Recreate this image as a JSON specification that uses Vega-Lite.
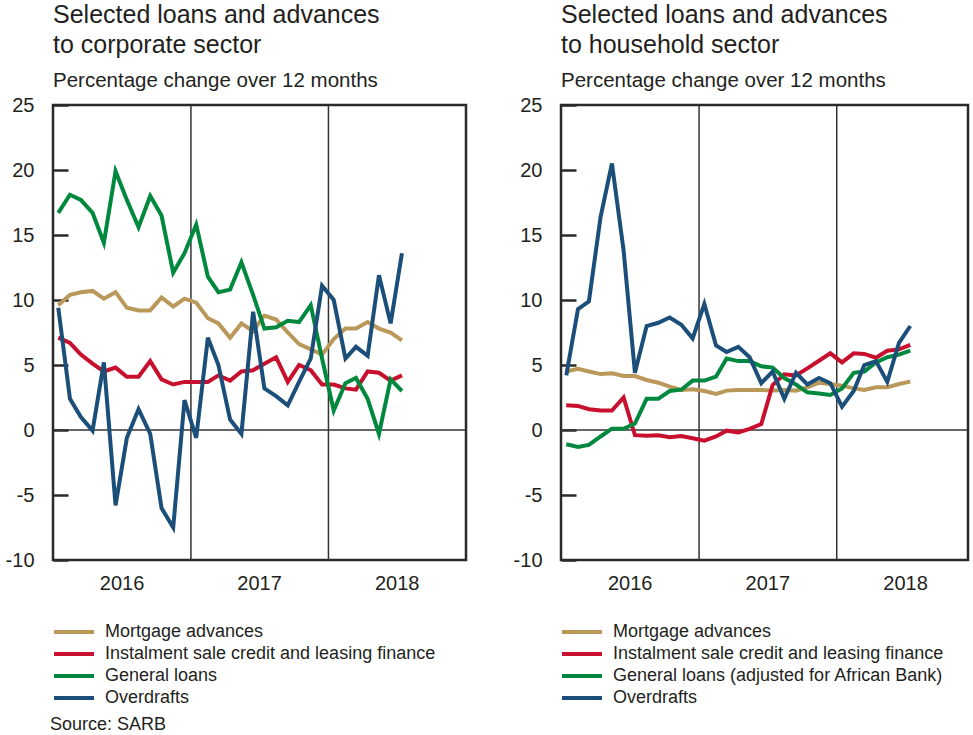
{
"$schema":"https://vega.github.io/schema/vega-lite/v6.json",
"padding":{"left":3,"top":1,"right":0,"bottom":5},
"config":{
 "font":"Liberation Sans",
 "view":{"stroke":"#2a2a2a","strokeWidth":2.5},
 "concat":{"spacing":43},
 "axis":{"labelFont":"Liberation Sans","labelColor":"#231f20","grid":false,"domain":false,"title":null},
 "title":{"anchor":"start","frame":"group","font":"Liberation Sans","fontSize":25,"fontWeight":"normal","color":"#231f20","lineHeight":30,"subtitleFont":"Liberation Sans","subtitleFontSize":20.5,"subtitleColor":"#231f20","subtitlePadding":13,"offset":4},
 "legend":{"labelFont":"Liberation Sans","titleFont":"Liberation Sans"}
},
"datasets":{
"corp":[
{"series":"Mortgage advances","date":"2016-01-15","value":9.6},{"series":"Mortgage advances","date":"2016-02-15","value":10.4},{"series":"Mortgage advances","date":"2016-03-15","value":10.6},{"series":"Mortgage advances","date":"2016-04-15","value":10.7},{"series":"Mortgage advances","date":"2016-05-15","value":10.1},{"series":"Mortgage advances","date":"2016-06-15","value":10.6},{"series":"Mortgage advances","date":"2016-07-15","value":9.4},{"series":"Mortgage advances","date":"2016-08-15","value":9.2},{"series":"Mortgage advances","date":"2016-09-15","value":9.2},{"series":"Mortgage advances","date":"2016-10-15","value":10.2},{"series":"Mortgage advances","date":"2016-11-15","value":9.5},{"series":"Mortgage advances","date":"2016-12-15","value":10.1},
{"series":"Mortgage advances","date":"2017-01-15","value":9.8},{"series":"Mortgage advances","date":"2017-02-15","value":8.6},{"series":"Mortgage advances","date":"2017-03-15","value":8.2},{"series":"Mortgage advances","date":"2017-04-15","value":7.1},{"series":"Mortgage advances","date":"2017-05-15","value":8.2},{"series":"Mortgage advances","date":"2017-06-15","value":7.6},{"series":"Mortgage advances","date":"2017-07-15","value":8.8},{"series":"Mortgage advances","date":"2017-08-15","value":8.5},{"series":"Mortgage advances","date":"2017-09-15","value":7.5},{"series":"Mortgage advances","date":"2017-10-15","value":6.6},{"series":"Mortgage advances","date":"2017-11-15","value":6.2},{"series":"Mortgage advances","date":"2017-12-15","value":5.8},
{"series":"Mortgage advances","date":"2018-01-15","value":7.0},{"series":"Mortgage advances","date":"2018-02-15","value":7.8},{"series":"Mortgage advances","date":"2018-03-15","value":7.8},{"series":"Mortgage advances","date":"2018-04-15","value":8.3},{"series":"Mortgage advances","date":"2018-05-15","value":7.8},{"series":"Mortgage advances","date":"2018-06-15","value":7.5},{"series":"Mortgage advances","date":"2018-07-15","value":6.9},
{"series":"Instalment sale credit and leasing finance","date":"2016-01-15","value":7.1},{"series":"Instalment sale credit and leasing finance","date":"2016-02-15","value":6.7},{"series":"Instalment sale credit and leasing finance","date":"2016-03-15","value":5.8},{"series":"Instalment sale credit and leasing finance","date":"2016-04-15","value":5.1},{"series":"Instalment sale credit and leasing finance","date":"2016-05-15","value":4.5},{"series":"Instalment sale credit and leasing finance","date":"2016-06-15","value":4.8},{"series":"Instalment sale credit and leasing finance","date":"2016-07-15","value":4.1},{"series":"Instalment sale credit and leasing finance","date":"2016-08-15","value":4.1},{"series":"Instalment sale credit and leasing finance","date":"2016-09-15","value":5.3},{"series":"Instalment sale credit and leasing finance","date":"2016-10-15","value":3.9},{"series":"Instalment sale credit and leasing finance","date":"2016-11-15","value":3.5},{"series":"Instalment sale credit and leasing finance","date":"2016-12-15","value":3.7},
{"series":"Instalment sale credit and leasing finance","date":"2017-01-15","value":3.7},{"series":"Instalment sale credit and leasing finance","date":"2017-02-15","value":3.7},{"series":"Instalment sale credit and leasing finance","date":"2017-03-15","value":4.2},{"series":"Instalment sale credit and leasing finance","date":"2017-04-15","value":3.8},{"series":"Instalment sale credit and leasing finance","date":"2017-05-15","value":4.5},{"series":"Instalment sale credit and leasing finance","date":"2017-06-15","value":4.6},{"series":"Instalment sale credit and leasing finance","date":"2017-07-15","value":5.1},{"series":"Instalment sale credit and leasing finance","date":"2017-08-15","value":5.6},{"series":"Instalment sale credit and leasing finance","date":"2017-09-15","value":3.7},{"series":"Instalment sale credit and leasing finance","date":"2017-10-15","value":5.0},{"series":"Instalment sale credit and leasing finance","date":"2017-11-15","value":4.6},{"series":"Instalment sale credit and leasing finance","date":"2017-12-15","value":3.5},
{"series":"Instalment sale credit and leasing finance","date":"2018-01-15","value":3.5},{"series":"Instalment sale credit and leasing finance","date":"2018-02-15","value":3.2},{"series":"Instalment sale credit and leasing finance","date":"2018-03-15","value":3.1},{"series":"Instalment sale credit and leasing finance","date":"2018-04-15","value":4.5},{"series":"Instalment sale credit and leasing finance","date":"2018-05-15","value":4.4},{"series":"Instalment sale credit and leasing finance","date":"2018-06-15","value":3.8},{"series":"Instalment sale credit and leasing finance","date":"2018-07-15","value":4.2},
{"series":"General loans","date":"2016-01-15","value":16.7},{"series":"General loans","date":"2016-02-15","value":18.1},{"series":"General loans","date":"2016-03-15","value":17.7},{"series":"General loans","date":"2016-04-15","value":16.7},{"series":"General loans","date":"2016-05-15","value":14.4},{"series":"General loans","date":"2016-06-15","value":19.9},{"series":"General loans","date":"2016-07-15","value":17.7},{"series":"General loans","date":"2016-08-15","value":15.6},{"series":"General loans","date":"2016-09-15","value":18.0},{"series":"General loans","date":"2016-10-15","value":16.5},{"series":"General loans","date":"2016-11-15","value":12.1},{"series":"General loans","date":"2016-12-15","value":13.6},
{"series":"General loans","date":"2017-01-15","value":15.8},{"series":"General loans","date":"2017-02-15","value":11.8},{"series":"General loans","date":"2017-03-15","value":10.6},{"series":"General loans","date":"2017-04-15","value":10.8},{"series":"General loans","date":"2017-05-15","value":12.9},{"series":"General loans","date":"2017-06-15","value":10.4},{"series":"General loans","date":"2017-07-15","value":7.8},{"series":"General loans","date":"2017-08-15","value":7.9},{"series":"General loans","date":"2017-09-15","value":8.4},{"series":"General loans","date":"2017-10-15","value":8.3},{"series":"General loans","date":"2017-11-15","value":9.6},{"series":"General loans","date":"2017-12-15","value":5.5},
{"series":"General loans","date":"2018-01-15","value":1.5},{"series":"General loans","date":"2018-02-15","value":3.6},{"series":"General loans","date":"2018-03-15","value":4.0},{"series":"General loans","date":"2018-04-15","value":2.4},{"series":"General loans","date":"2018-05-15","value":-0.3},{"series":"General loans","date":"2018-06-15","value":3.9},{"series":"General loans","date":"2018-07-15","value":3.0},
{"series":"Overdrafts","date":"2016-01-15","value":9.4},{"series":"Overdrafts","date":"2016-02-15","value":2.4},{"series":"Overdrafts","date":"2016-03-15","value":1.0},{"series":"Overdrafts","date":"2016-04-15","value":-0.05},{"series":"Overdrafts","date":"2016-05-15","value":5.2},{"series":"Overdrafts","date":"2016-06-15","value":-5.8},{"series":"Overdrafts","date":"2016-07-15","value":-0.6},{"series":"Overdrafts","date":"2016-08-15","value":1.6},{"series":"Overdrafts","date":"2016-09-15","value":-0.3},{"series":"Overdrafts","date":"2016-10-15","value":-6.0},{"series":"Overdrafts","date":"2016-11-15","value":-7.5},{"series":"Overdrafts","date":"2016-12-15","value":2.3},
{"series":"Overdrafts","date":"2017-01-15","value":-0.6},{"series":"Overdrafts","date":"2017-02-15","value":7.1},{"series":"Overdrafts","date":"2017-03-15","value":5.0},{"series":"Overdrafts","date":"2017-04-15","value":0.8},{"series":"Overdrafts","date":"2017-05-15","value":-0.3},{"series":"Overdrafts","date":"2017-06-15","value":9.1},{"series":"Overdrafts","date":"2017-07-15","value":3.2},{"series":"Overdrafts","date":"2017-08-15","value":2.6},{"series":"Overdrafts","date":"2017-09-15","value":1.9},{"series":"Overdrafts","date":"2017-10-15","value":3.7},{"series":"Overdrafts","date":"2017-11-15","value":5.5},{"series":"Overdrafts","date":"2017-12-15","value":11.1},
{"series":"Overdrafts","date":"2018-01-15","value":10.0},{"series":"Overdrafts","date":"2018-02-15","value":5.5},{"series":"Overdrafts","date":"2018-03-15","value":6.4},{"series":"Overdrafts","date":"2018-04-15","value":5.7},{"series":"Overdrafts","date":"2018-05-15","value":11.9},{"series":"Overdrafts","date":"2018-06-15","value":8.2},{"series":"Overdrafts","date":"2018-07-15","value":13.6}
],
"hh":[
{"series":"Mortgage advances","date":"2016-01-15","value":4.5},{"series":"Mortgage advances","date":"2016-02-15","value":4.7},{"series":"Mortgage advances","date":"2016-03-15","value":4.5},{"series":"Mortgage advances","date":"2016-04-15","value":4.3},{"series":"Mortgage advances","date":"2016-05-15","value":4.36},{"series":"Mortgage advances","date":"2016-06-15","value":4.15},{"series":"Mortgage advances","date":"2016-07-15","value":4.15},{"series":"Mortgage advances","date":"2016-08-15","value":3.85},{"series":"Mortgage advances","date":"2016-09-15","value":3.64},{"series":"Mortgage advances","date":"2016-10-15","value":3.33},{"series":"Mortgage advances","date":"2016-11-15","value":3.08},{"series":"Mortgage advances","date":"2016-12-15","value":3.13},
{"series":"Mortgage advances","date":"2017-01-15","value":3.0},{"series":"Mortgage advances","date":"2017-02-15","value":2.77},{"series":"Mortgage advances","date":"2017-03-15","value":3.03},{"series":"Mortgage advances","date":"2017-04-15","value":3.08},{"series":"Mortgage advances","date":"2017-05-15","value":3.08},{"series":"Mortgage advances","date":"2017-06-15","value":3.08},{"series":"Mortgage advances","date":"2017-07-15","value":3.03},{"series":"Mortgage advances","date":"2017-08-15","value":3.08},{"series":"Mortgage advances","date":"2017-09-15","value":3.03},{"series":"Mortgage advances","date":"2017-10-15","value":3.28},{"series":"Mortgage advances","date":"2017-11-15","value":3.64},{"series":"Mortgage advances","date":"2017-12-15","value":3.54},
{"series":"Mortgage advances","date":"2018-01-15","value":3.41},{"series":"Mortgage advances","date":"2018-02-15","value":3.2},{"series":"Mortgage advances","date":"2018-03-15","value":3.08},{"series":"Mortgage advances","date":"2018-04-15","value":3.28},{"series":"Mortgage advances","date":"2018-05-15","value":3.28},{"series":"Mortgage advances","date":"2018-06-15","value":3.54},{"series":"Mortgage advances","date":"2018-07-15","value":3.72},
{"series":"Instalment sale credit and leasing finance","date":"2016-01-15","value":1.9},{"series":"Instalment sale credit and leasing finance","date":"2016-02-15","value":1.85},{"series":"Instalment sale credit and leasing finance","date":"2016-03-15","value":1.6},{"series":"Instalment sale credit and leasing finance","date":"2016-04-15","value":1.5},{"series":"Instalment sale credit and leasing finance","date":"2016-05-15","value":1.5},{"series":"Instalment sale credit and leasing finance","date":"2016-06-15","value":2.5},{"series":"Instalment sale credit and leasing finance","date":"2016-07-15","value":-0.4},{"series":"Instalment sale credit and leasing finance","date":"2016-08-15","value":-0.45},{"series":"Instalment sale credit and leasing finance","date":"2016-09-15","value":-0.4},{"series":"Instalment sale credit and leasing finance","date":"2016-10-15","value":-0.56},{"series":"Instalment sale credit and leasing finance","date":"2016-11-15","value":-0.46},{"series":"Instalment sale credit and leasing finance","date":"2016-12-15","value":-0.64},
{"series":"Instalment sale credit and leasing finance","date":"2017-01-15","value":-0.82},{"series":"Instalment sale credit and leasing finance","date":"2017-02-15","value":-0.5},{"series":"Instalment sale credit and leasing finance","date":"2017-03-15","value":-0.05},{"series":"Instalment sale credit and leasing finance","date":"2017-04-15","value":-0.18},{"series":"Instalment sale credit and leasing finance","date":"2017-05-15","value":0.08},{"series":"Instalment sale credit and leasing finance","date":"2017-06-15","value":0.46},{"series":"Instalment sale credit and leasing finance","date":"2017-07-15","value":3.46},{"series":"Instalment sale credit and leasing finance","date":"2017-08-15","value":4.28},{"series":"Instalment sale credit and leasing finance","date":"2017-09-15","value":4.2},{"series":"Instalment sale credit and leasing finance","date":"2017-10-15","value":4.74},{"series":"Instalment sale credit and leasing finance","date":"2017-11-15","value":5.33},{"series":"Instalment sale credit and leasing finance","date":"2017-12-15","value":5.9},
{"series":"Instalment sale credit and leasing finance","date":"2018-01-15","value":5.2},{"series":"Instalment sale credit and leasing finance","date":"2018-02-15","value":5.9},{"series":"Instalment sale credit and leasing finance","date":"2018-03-15","value":5.85},{"series":"Instalment sale credit and leasing finance","date":"2018-04-15","value":5.56},{"series":"Instalment sale credit and leasing finance","date":"2018-05-15","value":6.1},{"series":"Instalment sale credit and leasing finance","date":"2018-06-15","value":6.2},{"series":"Instalment sale credit and leasing finance","date":"2018-07-15","value":6.54},
{"series":"General loans (adjusted for African Bank)","date":"2016-01-15","value":-1.1},{"series":"General loans (adjusted for African Bank)","date":"2016-02-15","value":-1.3},{"series":"General loans (adjusted for African Bank)","date":"2016-03-15","value":-1.15},{"series":"General loans (adjusted for African Bank)","date":"2016-04-15","value":-0.5},{"series":"General loans (adjusted for African Bank)","date":"2016-05-15","value":0.1},{"series":"General loans (adjusted for African Bank)","date":"2016-06-15","value":0.1},{"series":"General loans (adjusted for African Bank)","date":"2016-07-15","value":0.5},{"series":"General loans (adjusted for African Bank)","date":"2016-08-15","value":2.4},{"series":"General loans (adjusted for African Bank)","date":"2016-09-15","value":2.4},{"series":"General loans (adjusted for African Bank)","date":"2016-10-15","value":3.0},{"series":"General loans (adjusted for African Bank)","date":"2016-11-15","value":3.1},{"series":"General loans (adjusted for African Bank)","date":"2016-12-15","value":3.8},
{"series":"General loans (adjusted for African Bank)","date":"2017-01-15","value":3.8},{"series":"General loans (adjusted for African Bank)","date":"2017-02-15","value":4.1},{"series":"General loans (adjusted for African Bank)","date":"2017-03-15","value":5.5},{"series":"General loans (adjusted for African Bank)","date":"2017-04-15","value":5.3},{"series":"General loans (adjusted for African Bank)","date":"2017-05-15","value":5.3},{"series":"General loans (adjusted for African Bank)","date":"2017-06-15","value":4.9},{"series":"General loans (adjusted for African Bank)","date":"2017-07-15","value":4.8},{"series":"General loans (adjusted for African Bank)","date":"2017-08-15","value":4.0},{"series":"General loans (adjusted for African Bank)","date":"2017-09-15","value":3.5},{"series":"General loans (adjusted for African Bank)","date":"2017-10-15","value":2.9},{"series":"General loans (adjusted for African Bank)","date":"2017-11-15","value":2.8},{"series":"General loans (adjusted for African Bank)","date":"2017-12-15","value":2.7},
{"series":"General loans (adjusted for African Bank)","date":"2018-01-15","value":3.2},{"series":"General loans (adjusted for African Bank)","date":"2018-02-15","value":4.4},{"series":"General loans (adjusted for African Bank)","date":"2018-03-15","value":4.5},{"series":"General loans (adjusted for African Bank)","date":"2018-04-15","value":5.2},{"series":"General loans (adjusted for African Bank)","date":"2018-05-15","value":5.6},{"series":"General loans (adjusted for African Bank)","date":"2018-06-15","value":5.8},{"series":"General loans (adjusted for African Bank)","date":"2018-07-15","value":6.1},
{"series":"Overdrafts","date":"2016-01-15","value":4.2},{"series":"Overdrafts","date":"2016-02-15","value":9.3},{"series":"Overdrafts","date":"2016-03-15","value":9.9},{"series":"Overdrafts","date":"2016-04-15","value":16.4},{"series":"Overdrafts","date":"2016-05-15","value":20.5},{"series":"Overdrafts","date":"2016-06-15","value":13.8},{"series":"Overdrafts","date":"2016-07-15","value":4.4},{"series":"Overdrafts","date":"2016-08-15","value":8.0},{"series":"Overdrafts","date":"2016-09-15","value":8.25},{"series":"Overdrafts","date":"2016-10-15","value":8.65},{"series":"Overdrafts","date":"2016-11-15","value":8.1},{"series":"Overdrafts","date":"2016-12-15","value":7.05},
{"series":"Overdrafts","date":"2017-01-15","value":9.7},{"series":"Overdrafts","date":"2017-02-15","value":6.5},{"series":"Overdrafts","date":"2017-03-15","value":6.0},{"series":"Overdrafts","date":"2017-04-15","value":6.4},{"series":"Overdrafts","date":"2017-05-15","value":5.6},{"series":"Overdrafts","date":"2017-06-15","value":3.6},{"series":"Overdrafts","date":"2017-07-15","value":4.5},{"series":"Overdrafts","date":"2017-08-15","value":2.4},{"series":"Overdrafts","date":"2017-09-15","value":4.4},{"series":"Overdrafts","date":"2017-10-15","value":3.5},{"series":"Overdrafts","date":"2017-11-15","value":4.0},{"series":"Overdrafts","date":"2017-12-15","value":3.6},
{"series":"Overdrafts","date":"2018-01-15","value":1.8},{"series":"Overdrafts","date":"2018-02-15","value":3.0},{"series":"Overdrafts","date":"2018-03-15","value":5.0},{"series":"Overdrafts","date":"2018-04-15","value":5.3},{"series":"Overdrafts","date":"2018-05-15","value":3.7},{"series":"Overdrafts","date":"2018-06-15","value":6.7},{"series":"Overdrafts","date":"2018-07-15","value":8.0}
],
"years":[{"date":"2017-01-01"},{"date":"2018-01-01"}],
"zero":[{"value":0}]
},
"resolve":{"scale":{"color":"independent"},"legend":{"color":"independent"}},
"hconcat":[
{
 "width":413,"height":455,
 "title":{"text":["Selected loans and advances","to corporate sector"],"subtitle":"Percentage change over 12 months"},
 "layer":[
  {"data":{"name":"years"},"mark":{"type":"rule","color":"#333333","strokeWidth":1.5},"encoding":{"x":{"field":"date","type":"temporal"}}},
  {"data":{"name":"zero"},"mark":{"type":"rule","color":"#333333","strokeWidth":1.5},"encoding":{"y":{"field":"value","type":"quantitative"}}},
  {"data":{"name":"corp"},"mark":{"type":"line","strokeWidth":4},
   "encoding":{
    "x":{"field":"date","type":"temporal","scale":{"type":"utc","domain":[{"year":2016,"month":1,"date":1,"utc":true},{"year":2019,"month":1,"date":1,"utc":true}]},
         "axis":{"values":[{"year":2016,"month":7,"date":1,"utc":true},{"year":2017,"month":7,"date":1,"utc":true},{"year":2018,"month":7,"date":1,"utc":true}],"format":"%Y","ticks":false,"labelPadding":13,"labelFontSize":20}},
    "y":{"field":"value","type":"quantitative","scale":{"domain":[-10,25],"nice":false,"zero":false},
         "axis":{"values":[-10,-5,0,5,10,15,20,25],"labelExpr":"'' + datum.value","tickSize":-15,"tickWidth":2.5,"tickColor":"#2a2a2a","labelPadding":34,"labelFontSize":20,"minExtent":43,"maxExtent":43}},
    "color":{"field":"series","type":"nominal",
      "scale":{"domain":["Mortgage advances","Instalment sale credit and leasing finance","General loans","Overdrafts"],"range":["#b9985a","#c8102e","#00893e","#1b4f7a"]},
      "legend":{"orient":"none","legendX":-3,"legendY":518,"direction":"vertical","symbolType":"M-1,0H7","symbolSize":100,"symbolStrokeWidth":4,"symbolFillColor":"transparent","labelFontSize":18,"labelLimit":500,"labelColor":"#231f20","labelOffset":37,"rowPadding":4,"title":"Source: SARB","titleOrient":"bottom","titleAnchor":"start","titleAlign":"left","titleFontSize":18,"titleFontWeight":"normal","titleColor":"#231f20","titlePadding":9,"titleLimit":500}}
   }}
 ]
},
{
 "width":407,"height":455,
 "title":{"text":["Selected loans and advances","to household sector"],"subtitle":"Percentage change over 12 months"},
 "layer":[
  {"data":{"name":"years"},"mark":{"type":"rule","color":"#333333","strokeWidth":1.5},"encoding":{"x":{"field":"date","type":"temporal"}}},
  {"data":{"name":"zero"},"mark":{"type":"rule","color":"#333333","strokeWidth":1.5},"encoding":{"y":{"field":"value","type":"quantitative"}}},
  {"data":{"name":"hh"},"mark":{"type":"line","strokeWidth":4},
   "encoding":{
    "x":{"field":"date","type":"temporal","scale":{"type":"utc","domain":[{"year":2016,"month":1,"date":1,"utc":true},{"year":2018,"month":12,"date":15,"utc":true}]},
         "axis":{"values":[{"year":2016,"month":7,"date":1,"utc":true},{"year":2017,"month":7,"date":1,"utc":true},{"year":2018,"month":7,"date":1,"utc":true}],"format":"%Y","ticks":false,"labelPadding":13,"labelFontSize":20}},
    "y":{"field":"value","type":"quantitative","scale":{"domain":[-10,25],"nice":false,"zero":false},
         "axis":{"values":[-10,-5,0,5,10,15,20,25],"labelExpr":"'' + datum.value","tickSize":-15,"tickWidth":2.5,"tickColor":"#2a2a2a","labelPadding":34,"labelFontSize":20,"minExtent":43,"maxExtent":43}},
    "color":{"field":"series","type":"nominal",
      "scale":{"domain":["Mortgage advances","Instalment sale credit and leasing finance","General loans (adjusted for African Bank)","Overdrafts"],"range":["#b9985a","#c8102e","#00893e","#1b4f7a"]},
      "legend":{"orient":"none","legendX":-3,"legendY":518,"direction":"vertical","symbolType":"M-1,0H7","symbolSize":100,"symbolStrokeWidth":4,"symbolFillColor":"transparent","labelFontSize":18,"labelLimit":500,"labelColor":"#231f20","labelOffset":37,"rowPadding":4,"title":null}}
   }}
 ]
}
]
}
